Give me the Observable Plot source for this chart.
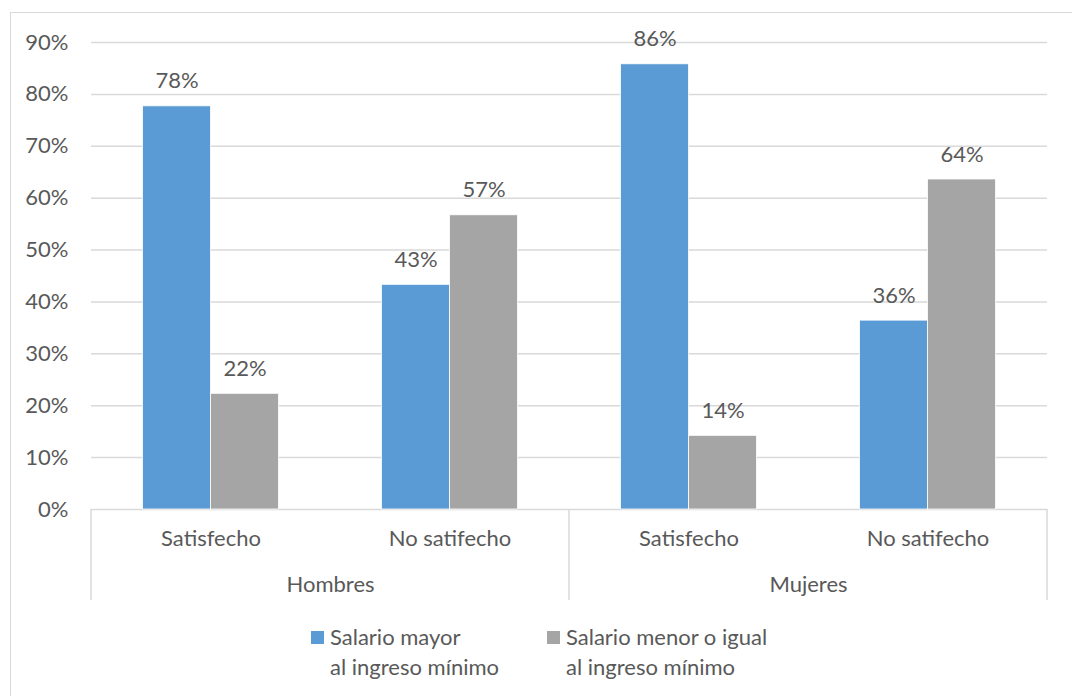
<!DOCTYPE html>
<html><head><meta charset="utf-8">
<script src="https://cdn.jsdelivr.net/npm/d3@7"></script>
<script src="https://cdn.jsdelivr.net/npm/@observablehq/plot@0.6"></script>
<style>
html,body{margin:0;padding:0;background:#fff;overflow:hidden;width:1072px;height:696px;position:relative;}
#frame{position:absolute;left:10px;top:12px;width:1100px;height:720px;border:1.5px solid #d9d9d9;box-sizing:border-box;}
#chart{position:absolute;left:0;top:0;}
.leg{position:absolute;font-family:Lato,sans-serif;font-size:22px;line-height:30px;color:#595959;white-space:nowrap;}
.sw{position:absolute;width:13px;height:13px;}
</style></head>
<body>
<div id="frame"></div>
<div id="chart"></div>
<div id="legend"></div>
<script>
const genders = ["Hombres", "Mujeres"];
const statuses = ["Satisfecho", "No satifecho"];
const seriesNames = ["Salario mayor al ingreso mínimo", "Salario menor o igual al ingreso mínimo"];
const legendLines = [["Salario mayor", "al ingreso mínimo"], ["Salario menor o igual", "al ingreso mínimo"]];
// values in %, order: Hombres-Satisfecho, Hombres-No satifecho, Mujeres-Satisfecho, Mujeres-No satifecho
const mayorValues = [77.7, 43.3, 85.8, 36.4];
const menorValues = [22.3, 56.7, 14.2, 63.6];
const yTicks = [0, 10, 20, 30, 40, 50, 60, 70, 80, 90];
const colors = ["#5B9BD5", "#A5A5A5"];

const keys = [];
const cats = [];
genders.forEach(g => statuses.forEach(s => { keys.push(g + "|" + s); cats.push({key: g + "|" + s, gender: g, status: s}); }));
const data = [];
cats.forEach((c, i) => {
  data.push({key: c.key, series: seriesNames[0], value: mayorValues[i]});
  data.push({key: c.key, series: seriesNames[1], value: menorValues[i]});
});
const genderLabels = genders.map(g => ({key: g + "|" + statuses[0], gender: g}));

const W = 1072, H = 610, mL = 91, mR = 25, mT = 42, mB = 101;
const textColor = "#595959";
const fs = 22;
const plot = Plot.plot({
  width: W, height: H,
  marginLeft: mL, marginRight: mR, marginTop: mT, marginBottom: mB,
  style: {fontFamily: "Lato, sans-serif", fontSize: fs + "px", color: textColor, background: "transparent", overflow: "visible"},
  fx: {domain: keys, paddingInner: 0, paddingOuter: 0, axis: null, round: false},
  x: {domain: seriesNames, paddingInner: 0, paddingOuter: 0.757, axis: null, round: false},
  y: {domain: [0, 90], axis: null},
  color: {domain: seriesNames, range: colors},
  marks: [
    Plot.ruleY(yTicks, {stroke: "#d9d9d9", strokeWidth: 1.5}),
    Plot.axisY({ticks: yTicks, tickFormat: d => d + "%", tickSize: 0, tickPadding: 23, fill: textColor, fontSize: fs, label: null}),
    Plot.barY(data, {fx: "key", x: "series", y: "value", fill: "series", stroke: "white", strokeWidth: 0.8}),
    Plot.text(data, {fx: "key", x: "series", y: "value", text: d => Math.round(d.value) + "%", dy: -25, fill: textColor, fontSize: fs}),
    Plot.text(cats, {fx: "key", text: "status", frameAnchor: "bottom", textAnchor: "middle", dy: 36, fill: textColor, fontSize: fs}),
    Plot.text(genderLabels, {fx: "key", text: "gender", frameAnchor: "bottom-right", textAnchor: "middle", dy: 82, fill: textColor, fontSize: fs})
  ]
});
document.getElementById("chart").appendChild(plot);

// multi-level category axis separators
const svgEl = plot.tagName.toLowerCase() === "svg" ? plot : plot.querySelector("svg");
const fxScale = d3.scaleBand().domain(keys).range([mL, W - mR]).padding(0);
const yBase = H - mB;
const seps = [fxScale(keys[0]), fxScale(keys[statuses.length]), fxScale(keys[keys.length - 1]) + fxScale.bandwidth()];
d3.select(svgEl).append("g").selectAll("line").data(seps).join("line")
  .attr("x1", d => d).attr("x2", d => d).attr("y1", yBase).attr("y2", yBase + 91)
  .attr("stroke", "#d9d9d9").attr("stroke-width", 1.5);

// legend
const legend = document.getElementById("legend");
const legPos = [{sx: 311, tx: 330}, {sx: 547, tx: 566}];
legendLines.forEach((lines, i) => {
  const sw = document.createElement("div");
  sw.className = "sw"; sw.style.left = legPos[i].sx + "px"; sw.style.top = "631px"; sw.style.background = colors[i];
  legend.appendChild(sw);
  const t = document.createElement("div");
  t.className = "leg"; t.style.left = legPos[i].tx + "px"; t.style.top = "622px";
  t.innerHTML = lines.join("<br>");
  legend.appendChild(t);
});
</script>
</body></html>
